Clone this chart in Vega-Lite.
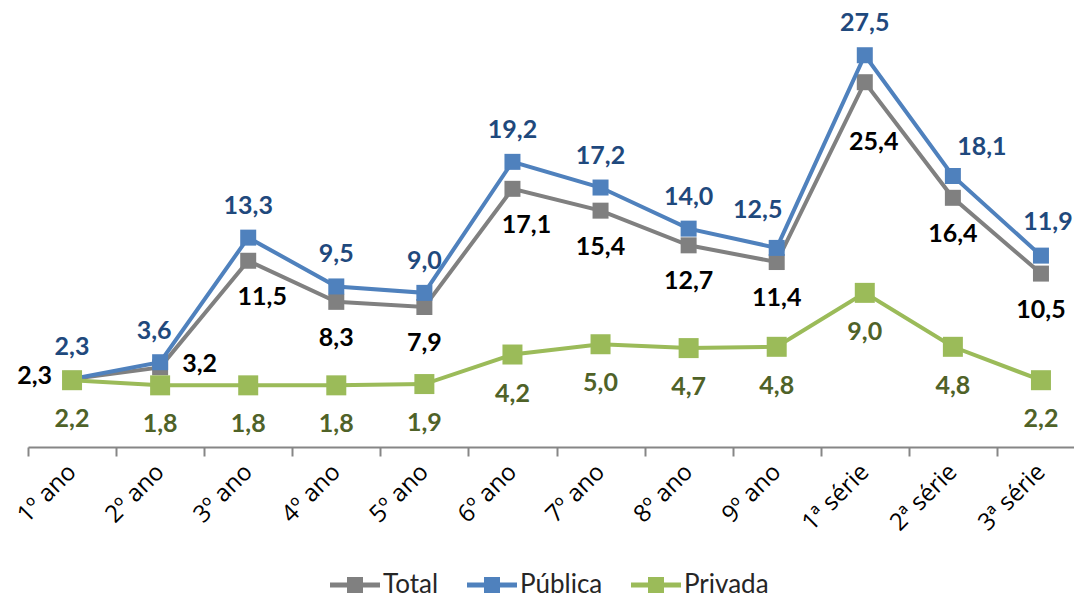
{
  "$schema": "https://vega.github.io/schema/vega-lite/v6.json",
  "autosize": "none",
  "width": 1046,
  "height": 447,
  "padding": {"left": 28, "top": 0, "right": 0, "bottom": 155},
  "background": "white",
  "config": {
    "view": {"stroke": null},
    "locale": {"number": {"decimal": ",", "thousands": ".", "grouping": [3], "currency": ["R$", ""]}},
    "font": "Lato"
  },
  "data": {
    "values": [
      {"serie": "1º ano", "tipo": "Total", "valor": 2.3},
      {"serie": "2º ano", "tipo": "Total", "valor": 3.2},
      {"serie": "3º ano", "tipo": "Total", "valor": 11.5},
      {"serie": "4º ano", "tipo": "Total", "valor": 8.3},
      {"serie": "5º ano", "tipo": "Total", "valor": 7.9},
      {"serie": "6º ano", "tipo": "Total", "valor": 17.1},
      {"serie": "7º ano", "tipo": "Total", "valor": 15.4},
      {"serie": "8º ano", "tipo": "Total", "valor": 12.7},
      {"serie": "9º ano", "tipo": "Total", "valor": 11.4},
      {"serie": "1ª série", "tipo": "Total", "valor": 25.4},
      {"serie": "2ª série", "tipo": "Total", "valor": 16.4},
      {"serie": "3ª série", "tipo": "Total", "valor": 10.5},
      {"serie": "1º ano", "tipo": "Pública", "valor": 2.3},
      {"serie": "2º ano", "tipo": "Pública", "valor": 3.6},
      {"serie": "3º ano", "tipo": "Pública", "valor": 13.3},
      {"serie": "4º ano", "tipo": "Pública", "valor": 9.5},
      {"serie": "5º ano", "tipo": "Pública", "valor": 9.0},
      {"serie": "6º ano", "tipo": "Pública", "valor": 19.2},
      {"serie": "7º ano", "tipo": "Pública", "valor": 17.2},
      {"serie": "8º ano", "tipo": "Pública", "valor": 14.0},
      {"serie": "9º ano", "tipo": "Pública", "valor": 12.5},
      {"serie": "1ª série", "tipo": "Pública", "valor": 27.5},
      {"serie": "2ª série", "tipo": "Pública", "valor": 18.1},
      {"serie": "3ª série", "tipo": "Pública", "valor": 11.9},
      {"serie": "1º ano", "tipo": "Privada", "valor": 2.2},
      {"serie": "2º ano", "tipo": "Privada", "valor": 1.8},
      {"serie": "3º ano", "tipo": "Privada", "valor": 1.8},
      {"serie": "4º ano", "tipo": "Privada", "valor": 1.8},
      {"serie": "5º ano", "tipo": "Privada", "valor": 1.9},
      {"serie": "6º ano", "tipo": "Privada", "valor": 4.2},
      {"serie": "7º ano", "tipo": "Privada", "valor": 5.0},
      {"serie": "8º ano", "tipo": "Privada", "valor": 4.7},
      {"serie": "9º ano", "tipo": "Privada", "valor": 4.8},
      {"serie": "1ª série", "tipo": "Privada", "valor": 9.0},
      {"serie": "2ª série", "tipo": "Privada", "valor": 4.8},
      {"serie": "3ª série", "tipo": "Privada", "valor": 2.2}
    ]
  },
  "encoding": {
    "x": {
      "field": "serie", "type": "nominal", "sort": null,
      "scale": {"type": "band", "paddingInner": 0, "paddingOuter": 0, "range": [0, 1057]},
      "axis": {
        "title": null, "tickBand": "extent", "labelAngle": -45, "labelAlign": "right", "labelBaseline": "middle",
        "labelFont": "Open Sans", "labelFontSize": 24, "labelColor": "#000000", "labelPadding": 12,
        "domainColor": "#868686", "domainWidth": 2, "tickColor": "#868686", "tickWidth": 2, "tickSize": 9,
        "labelOverlap": false
      }
    },
    "y": {
      "field": "valor", "type": "quantitative",
      "scale": {"domain": [-3, 31.8], "nice": false, "zero": false},
      "axis": null
    },
    "color": {
      "field": "tipo", "type": "nominal",
      "scale": {"domain": ["Total", "Pública", "Privada"], "range": ["#808080", "#4F81BD", "#9BBB59"]},
      "legend": {
        "orient": "none", "legendX": 302, "legendY": 560, "direction": "horizontal", "title": null,
        "symbolType": "M-1,-0.1H1V0.1H-1Z M-0.32,-0.32H0.32V0.32H-0.32Z",
        "symbolSize": 2500, "symbolStrokeWidth": 0,
        "labelFont": "Lato", "labelFontSize": 26, "labelColor": "#262626", "labelOffset": 3,
        "columnPadding": 28,
        "encode": {"symbols": {"update": {"fill": {"scale": "color", "field": "value"}, "fillOpacity": {"value": 1}, "strokeWidth": {"value": 0}, "opacity": {"value": 1}}}}
      }
    }
  },
  "layer": [
    {
      "transform": [{"filter": "datum.tipo == 'Total'"}],
      "mark": {"type": "line", "strokeWidth": 4, "point": {"shape": "square", "size": 256, "filled": true, "opacity": 1}}
    },
    {
      "transform": [{"filter": "datum.tipo == 'Pública'"}],
      "mark": {"type": "line", "strokeWidth": 4, "point": {"shape": "square", "size": 256, "filled": true, "opacity": 1}}
    },
    {
      "transform": [{"filter": "datum.tipo == 'Privada'"}],
      "mark": {"type": "line", "strokeWidth": 4, "point": {"shape": "square", "size": 400, "filled": true, "opacity": 1}}
    },
    {
      "transform": [{"filter": "datum.tipo == 'Total'"}, {"filter": {"not": {"field": "serie", "oneOf": ["1º ano", "2º ano", "1ª série", "3º ano", "6º ano"]}}}],
      "mark": {"type": "text", "dy": 36, "fontSize": 25, "fontWeight": "bold", "font": "Lato"},
      "encoding": {"text": {"field": "valor", "type": "quantitative", "format": ".1f"}, "color": {"value": "#000000"}}
    },
    {
      "transform": [{"filter": "datum.tipo == 'Total'"}, {"filter": {"field": "serie", "oneOf": ["3º ano", "6º ano"]}}],
      "mark": {"type": "text", "dy": 36, "dx": 14, "fontSize": 25, "fontWeight": "bold", "font": "Lato"},
      "encoding": {"text": {"field": "valor", "type": "quantitative", "format": ".1f"}, "color": {"value": "#000000"}}
    },
    {
      "transform": [{"filter": "datum.tipo == 'Total'"}, {"filter": {"field": "serie", "equal": "1ª série"}}],
      "mark": {"type": "text", "dy": 60, "dx": 9, "fontSize": 25, "fontWeight": "bold", "font": "Lato"},
      "encoding": {"text": {"field": "valor", "type": "quantitative", "format": ".1f"}, "color": {"value": "#000000"}}
    },
    {
      "transform": [{"filter": "datum.tipo == 'Total'"}, {"filter": {"field": "serie", "equal": "1º ano"}}],
      "mark": {"type": "text", "dy": -3, "dx": -20, "align": "right", "fontSize": 25, "fontWeight": "bold", "font": "Lato"},
      "encoding": {"text": {"field": "valor", "type": "quantitative", "format": ".1f"}, "color": {"value": "#000000"}}
    },
    {
      "transform": [{"filter": "datum.tipo == 'Total'"}, {"filter": {"field": "serie", "equal": "2º ano"}}],
      "mark": {"type": "text", "dy": -3, "dx": 22, "align": "left", "fontSize": 25, "fontWeight": "bold", "font": "Lato"},
      "encoding": {"text": {"field": "valor", "type": "quantitative", "format": ".1f"}, "color": {"value": "#000000"}}
    },
    {
      "transform": [{"filter": "datum.tipo == 'Pública'"}, {"filter": {"not": {"field": "serie", "oneOf": ["9º ano", "2ª série", "3ª série", "2º ano"]}}}],
      "mark": {"type": "text", "dy": -32, "fontSize": 25, "fontWeight": "bold", "font": "Lato"},
      "encoding": {"text": {"field": "valor", "type": "quantitative", "format": ".1f"}, "color": {"value": "#1F497D"}}
    },
    {
      "transform": [{"filter": "datum.tipo == 'Pública'"}, {"filter": {"field": "serie", "equal": "2º ano"}}],
      "mark": {"type": "text", "dy": -31, "dx": -6, "fontSize": 25, "fontWeight": "bold", "font": "Lato"},
      "encoding": {"text": {"field": "valor", "type": "quantitative", "format": ".1f"}, "color": {"value": "#1F497D"}}
    },
    {
      "transform": [{"filter": "datum.tipo == 'Pública'"}, {"filter": {"field": "serie", "equal": "9º ano"}}],
      "mark": {"type": "text", "dy": -38, "dx": -19, "fontSize": 25, "fontWeight": "bold", "font": "Lato"},
      "encoding": {"text": {"field": "valor", "type": "quantitative", "format": ".1f"}, "color": {"value": "#1F497D"}}
    },
    {
      "transform": [{"filter": "datum.tipo == 'Pública'"}, {"filter": {"field": "serie", "equal": "2ª série"}}],
      "mark": {"type": "text", "dy": -29, "dx": 29, "fontSize": 25, "fontWeight": "bold", "font": "Lato"},
      "encoding": {"text": {"field": "valor", "type": "quantitative", "format": ".1f"}, "color": {"value": "#1F497D"}}
    },
    {
      "transform": [{"filter": "datum.tipo == 'Pública'"}, {"filter": {"field": "serie", "equal": "3ª série"}}],
      "mark": {"type": "text", "dy": -34, "dx": 7, "fontSize": 25, "fontWeight": "bold", "font": "Lato"},
      "encoding": {"text": {"field": "valor", "type": "quantitative", "format": ".1f"}, "color": {"value": "#1F497D"}}
    },
    {
      "transform": [{"filter": "datum.tipo == 'Privada'"}],
      "mark": {"type": "text", "dy": 39, "fontSize": 25, "fontWeight": "bold", "font": "Lato"},
      "encoding": {"text": {"field": "valor", "type": "quantitative", "format": ".1f"}, "color": {"value": "#4F6228"}}
    }
  ]
}
